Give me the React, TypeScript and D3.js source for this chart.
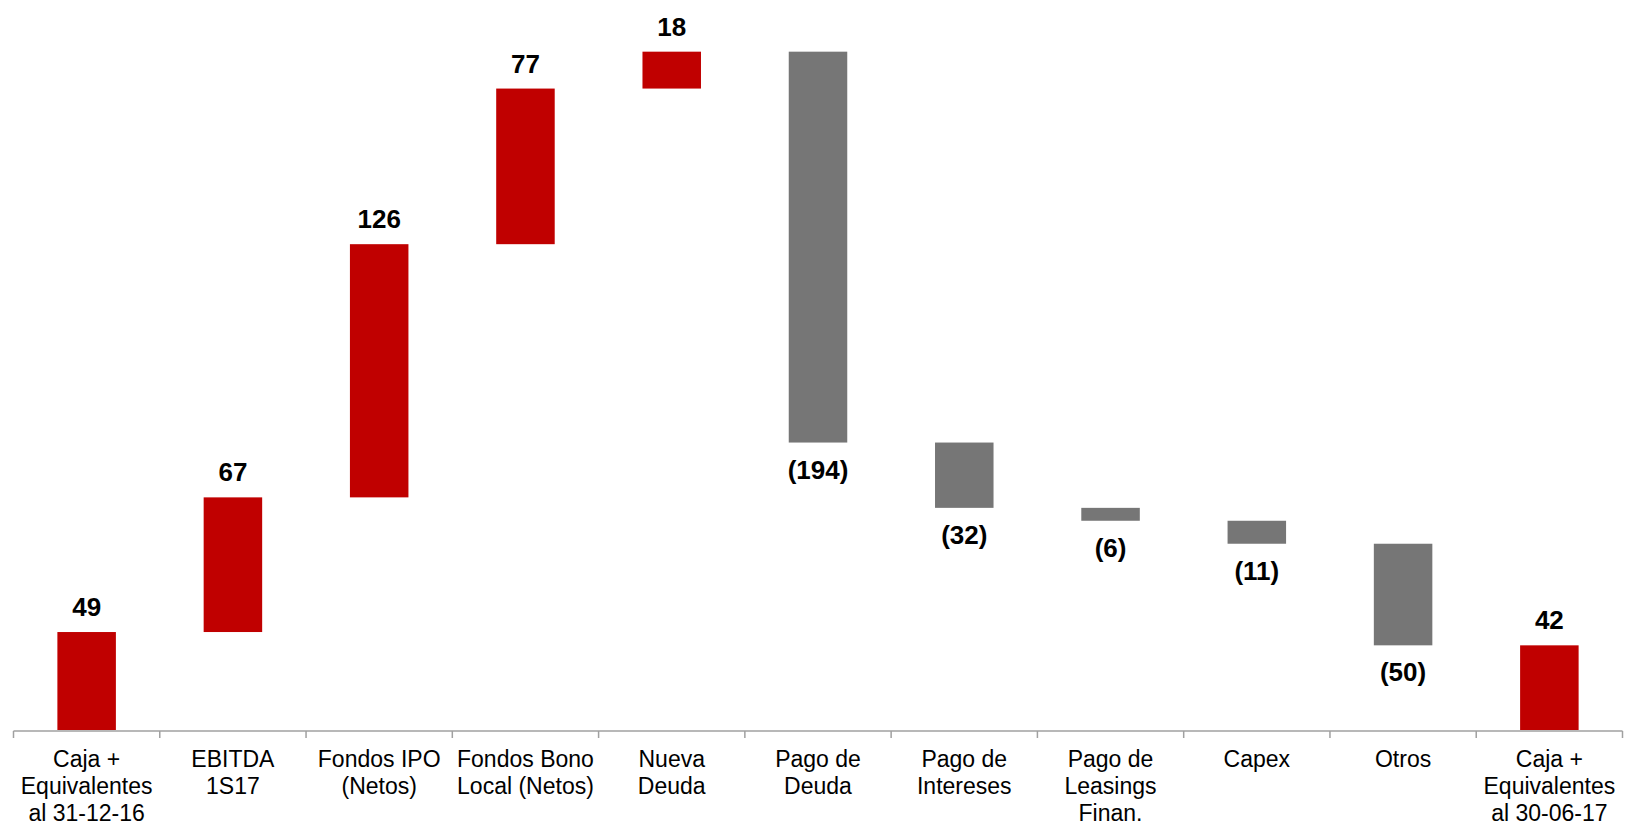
import React from "react";
import * as d3 from "d3";

const categories: string[][] = [
  ["Caja +", "Equivalentes", "al 31-12-16"],
  ["EBITDA", "1S17"],
  ["Fondos IPO", "(Netos)"],
  ["Fondos Bono", "Local (Netos)"],
  ["Nueva", "Deuda"],
  ["Pago de", "Deuda"],
  ["Pago de", "Intereses"],
  ["Pago de", "Leasings", "Finan."],
  ["Capex"],
  ["Otros"],
  ["Caja +", "Equivalentes", "al 30-06-17"],
];

// flow values (first and last are totals)
const values: number[] = [48.6, 66.8, 125.6, 77.2, 18.3, -193.9, -32.4, -6.4, -11.4, -50.4, 42.0];
const isTotal: boolean[] = [true, false, false, false, false, false, false, false, false, false, true];

const W = 1631;
const H = 828;
const RED = "#C00000";
const GRAY = "#767676";
const FONT = "'Liberation Sans', Arial, sans-serif";

export default function App() {
  const x = d3
    .scaleBand<number>()
    .domain(d3.range(categories.length))
    .range([13.5, 1622.5])
    .paddingInner(0.6)
    .paddingOuter(0.3);
  const y = d3.scaleLinear().domain([0, 360]).range([730, 4.3]);

  let cum = 0;
  const bars = values.map((v, i) => {
    let lo: number, hi: number;
    if (isTotal[i]) {
      lo = 0;
      hi = v;
      cum = v;
    } else {
      const start = cum;
      cum = cum + v;
      lo = Math.min(start, cum);
      hi = Math.max(start, cum);
    }
    return { i, v, lo, hi };
  });

  const step = x.step();
  const ticks = d3.range(categories.length + 1).map((k) => 13.5 + k * step);

  return (
    <svg
      width={W}
      height={H}
      style={{ position: "absolute", left: 0, top: 0, background: "#fff" }}
      fontFamily={FONT}
    >
      {bars.map((b) => (
        <rect
          key={"b" + b.i}
          x={x(b.i)!}
          y={y(b.hi)}
          width={x.bandwidth()}
          height={y(b.lo) - y(b.hi)}
          fill={b.v >= 0 ? RED : GRAY}
        />
      ))}
      {bars.map((b) => {
        const cx = x(b.i)! + x.bandwidth() / 2;
        const pos = b.v >= 0;
        const label = pos ? `${Math.round(b.v)}` : `(${Math.round(-b.v)})`;
        return (
          <text
            key={"l" + b.i}
            x={cx}
            y={pos ? y(b.hi) - 16 : y(b.lo) + 36}
            textAnchor="middle"
            fontSize={26}
            fontWeight="bold"
            fill="#000"
          >
            {label}
          </text>
        );
      })}
      <line x1={13.5} x2={1622.5} y1={731} y2={731} stroke="#A0A0A0" strokeWidth={1.5} />
      {ticks.map((t, k) => (
        <line key={"t" + k} x1={t} x2={t} y1={731} y2={738} stroke="#A0A0A0" strokeWidth={1.5} />
      ))}
      {categories.map((lines, i) => {
        const cx = x(i)! + x.bandwidth() / 2;
        return (
          <text key={"c" + i} x={cx} y={767} textAnchor="middle" fontSize={23} fill="#000">
            {lines.map((ln, j) => (
              <tspan key={j} x={cx} y={767 + j * 26.8}>
                {ln}
              </tspan>
            ))}
          </text>
        );
      })}
    </svg>
  );
}
